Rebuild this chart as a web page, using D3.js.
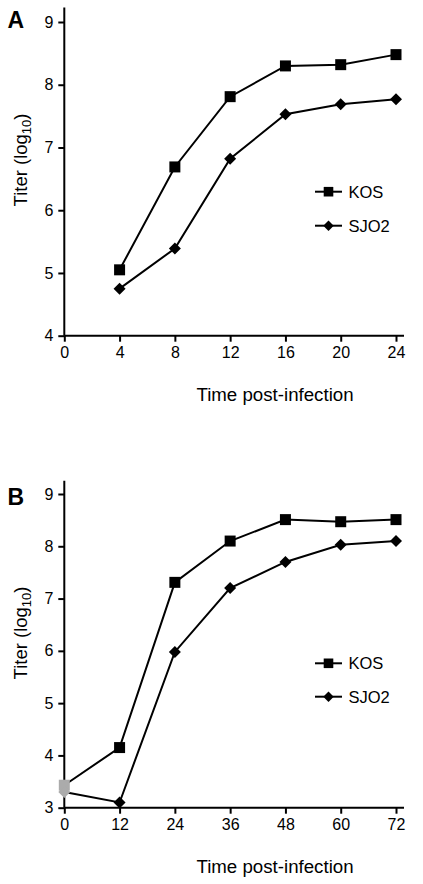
<!DOCTYPE html>
<html><head><meta charset="utf-8">
<script src="https://cdn.jsdelivr.net/npm/d3@7"></script>
<style>
html,body{margin:0;padding:0;background:#fff;}
svg{display:block;font-family:"Liberation Sans",Arial,sans-serif;}
</style></head>
<body>
<script>
// Panel A
const timesA = [4, 8, 12, 16, 20, 24];
const kosA = [5.05, 6.69, 7.81, 8.30, 8.32, 8.48];
const sjoA = [4.75, 5.39, 6.82, 7.53, 7.69, 7.77];
const xTicksA = [0, 4, 8, 12, 16, 20, 24];
const yTicksA = [4, 5, 6, 7, 8, 9];
// Panel B (t=0 points drawn grey)
const timesB = [0, 12, 24, 36, 48, 60, 72];
const kosB = [3.43, 4.15, 7.31, 8.10, 8.51, 8.47, 8.51];
const sjoB = [3.30, 3.10, 5.98, 7.20, 7.70, 8.03, 8.10];
const xTicksB = [0, 12, 24, 36, 48, 60, 72];
const yTicksB = [3, 4, 5, 6, 7, 8, 9];
const seriesNames = ["KOS", "SJO2"];

const W = 423, H = 884;
const svg = d3.select("body").append("svg").attr("width", W).attr("height", H);

function squarePath(h) { return `M${-h},${-h}H${h}V${h}H${-h}Z`; }
function diamondPath(h) { return `M0,${-h}L${h},0L0,${h}L${-h},0Z`; }

function panel(cfg) {
  const g = svg.append("g");
  const x = d3.scaleLinear().domain([cfg.xTicks[0], cfg.xTicks[cfg.xTicks.length-1]]).range([64.3, 396]);
  const y = d3.scaleLinear().domain([cfg.yTicks[0], cfg.yTicks[cfg.yTicks.length-1]]).range([cfg.y0, cfg.y1]);
  const fmt = d3.format("d");
  const xa = g.append("g").attr("transform", `translate(0,${cfg.y0})`)
    .call(d3.axisBottom(x).tickValues(cfg.xTicks).tickFormat(fmt).tickSize(6).tickPadding(4).tickSizeOuter(0));
  xa.select(".domain").attr("d", `M64.3,0H404`);
  const ya = g.append("g").attr("transform", `translate(64.3,0)`)
    .call(d3.axisLeft(y).tickValues(cfg.yTicks).tickFormat(fmt).tickSize(6).tickPadding(5).tickSizeOuter(0));
  ya.select(".domain").attr("d", `M0,${cfg.axisTop}V${cfg.y0}`);
  g.selectAll(".domain").attr("stroke", "#000").attr("stroke-width", 2);
  g.selectAll(".tick line").attr("stroke", "#000").attr("stroke-width", 2);
  g.selectAll(".tick text").attr("font-size", 16).attr("fill", "#000")
    .attr("font-family", "'Liberation Sans',Arial,sans-serif");
  xa.selectAll(".tick text").attr("dy", "0.75em");

  const line = d3.line().x(d => x(d[0])).y(d => y(d[1]));
  const data = [cfg.times.map((t,i)=>[t,cfg.kos[i]]), cfg.times.map((t,i)=>[t,cfg.sjo[i]])];
  data.forEach(d => g.append("path").attr("d", line(d)).attr("fill","none").attr("stroke","#000").attr("stroke-width",2));
  data[0].forEach(d => g.append("path").attr("d", squarePath(5.5)).attr("transform", `translate(${x(d[0])},${y(d[1])})`)
    .attr("fill", d[0]===0 ? "#ababab" : "#000"));
  data[1].forEach(d => g.append("path").attr("d", diamondPath(6)).attr("transform", `translate(${x(d[0])},${y(d[1])})`)
    .attr("fill", d[0]===0 ? "#ababab" : "#000"));

  // legend
  [cfg.leg1, cfg.leg2].forEach((ly, i) => {
    g.append("line").attr("x1", 315).attr("x2", 342).attr("y1", ly).attr("y2", ly).attr("stroke", "#000").attr("stroke-width", 2);
    g.append("path").attr("d", i===0 ? squarePath(4.8) : diamondPath(5.2))
      .attr("transform", `translate(328.5,${ly})`).attr("fill", "#000");
    g.append("text").attr("x", 348.5).attr("y", ly).attr("dy", "0.36em").attr("font-size", 16.5).text(seriesNames[i]);
  });

  // panel letter
  g.append("text").attr("x", 7.5).attr("y", cfg.letterY).attr("font-size", 23).attr("font-weight", "bold").text(cfg.letter);
  // y title
  const yt = g.append("text").attr("transform", `translate(27,${cfg.ytY}) rotate(-90)`).attr("text-anchor", "middle").attr("font-size", 18.5);
  yt.append("tspan").text("Titer (log");
  yt.append("tspan").attr("font-size", 13).attr("dy", 4).text("10");
  yt.append("tspan").attr("dy", -4).text(")");
  // x title
  g.append("text").attr("x", 275).attr("y", cfg.xtY).attr("text-anchor", "middle").attr("font-size", 18.7).text("Time post-infection");
}

panel({times: timesA, kos: kosA, sjo: sjoA, xTicks: xTicksA, yTicks: yTicksA,
  y0: 335.7, y1: 22, axisTop: 7.5, leg1: 191.7, leg2: 225.7, letter: "A", letterY: 28, ytY: 160, xtY: 401});
panel({times: timesB, kos: kosB, sjo: sjoB, xTicks: xTicksB, yTicks: yTicksB,
  y0: 807.7, y1: 494, axisTop: 480.7, leg1: 663.3, leg2: 696.7, letter: "B", letterY: 505, ytY: 633, xtY: 873});
</script>
</body></html>
